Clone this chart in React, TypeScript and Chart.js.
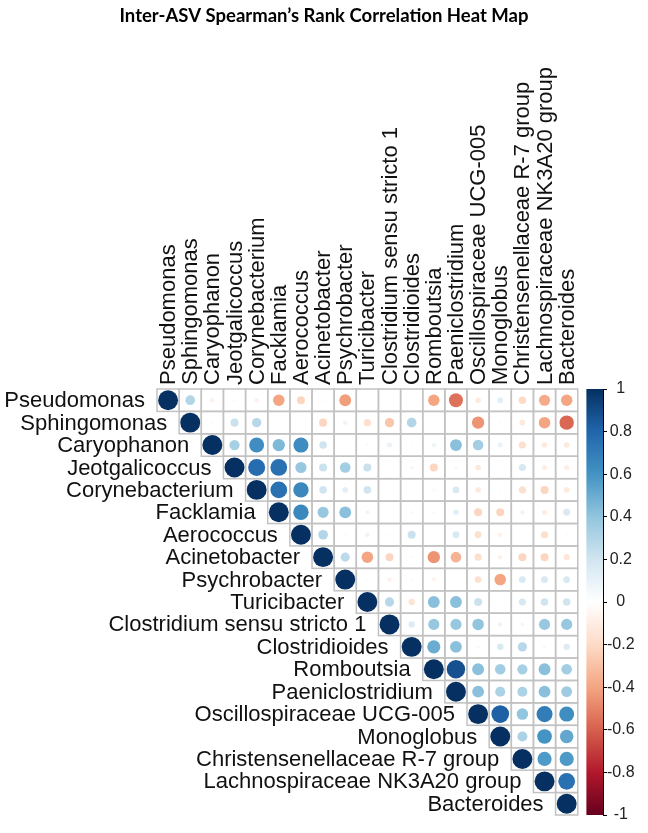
import { useEffect, useRef } from "react";
import { Chart, registerables } from "chart.js";

Chart.register(...registerables);

// ASV genera, in matrix order
const asvNames = [
  "Pseudomonas",
  "Sphingomonas",
  "Caryophanon",
  "Jeotgalicoccus",
  "Corynebacterium",
  "Facklamia",
  "Aerococcus",
  "Acinetobacter",
  "Psychrobacter",
  "Turicibacter",
  "Clostridium sensu stricto 1",
  "Clostridioides",
  "Romboutsia",
  "Paeniclostridium",
  "Oscillospiraceae UCG-005",
  "Monoglobus",
  "Christensenellaceae R-7 group",
  "Lachnospiraceae NK3A20 group",
  "Bacteroides",
];

// Upper triangle of Spearman's rho, each row starting at its diagonal
const rhoPseudomonas = [1, 0.3, -0.08, 0.04, -0.08, -0.4, -0.22, -0.04, -0.42, 0.03, 0, -0.03, -0.4, -0.55, -0.12, 0.13, -0.2, -0.38, -0.4];
const rhoSphingomonas = [1, -0.04, 0.22, 0.28, 0, -0.03, -0.22, 0.08, -0.18, -0.28, 0.3, 0, -0.03, -0.45, -0.03, -0.12, -0.4, -0.58];
const rhoCaryophanon = [1, 0.33, 0.62, 0.45, 0.63, 0.2, 0, 0.04, 0.1, 0.03, 0.08, 0.42, 0.35, 0.1, -0.18, -0.12, -0.12];
const rhoJeotgalicoccus = [1, 0.77, 0.75, 0.38, 0.22, 0.35, 0.22, -0.03, -0.06, -0.22, -0.05, -0.12, 0, 0.18, -0.1, -0.1];
const rhoCorynebacterium = [1, 0.75, 0.65, 0.2, 0.12, 0.2, 0.02, 0.02, -0.05, 0.17, -0.12, -0.03, -0.18, -0.22, -0.12];
const rhoFacklamia = [1, 0.65, 0.38, 0.42, 0.07, 0, 0.04, -0.04, 0.12, -0.22, -0.22, 0.08, -0.1, 0.17];
const rhoAerococcus = [1, 0.3, 0.03, 0.08, 0.03, 0.22, 0, 0.17, -0.17, -0.08, 0.02, -0.18, -0.03];
const rhoAcinetobacter = [1, 0.27, -0.4, -0.22, -0.04, -0.45, -0.35, -0.18, -0.08, -0.22, -0.22, -0.14];
const rhoPsychrobacter = [1, 0.03, -0.08, -0.03, -0.07, 0.02, -0.17, -0.4, 0.17, 0.17, 0.17];
const rhoTuricibacter = [1, 0.28, -0.15, 0.42, 0.42, 0.22, 0.02, 0.18, 0.2, 0.2];
const rhoClostridiumSS1 = [1, 0.15, 0.38, 0.38, 0.4, 0.08, 0.06, 0.38, 0.38];
const rhoClostridioides = [1, 0.5, 0.42, 0.05, 0.16, 0.28, 0.05, 0.15];
const rhoRomboutsia = [1, 0.88, 0.42, 0.35, 0.33, 0.42, 0.35];
const rhoPaeniclostridium = [1, 0.42, 0.32, 0.32, 0.42, 0.36];
const rhoOscillospiraceae = [1, 0.82, 0.4, 0.7, 0.62];
const rhoMonoglobus = [1, 0.32, 0.6, 0.52];
const rhoChristensenellaceae = [1, 0.57, 0.57];
const rhoLachnospiraceae = [1, 0.75];
const rhoBacteroides = [1];

const rhoRows = [
  rhoPseudomonas,
  rhoSphingomonas,
  rhoCaryophanon,
  rhoJeotgalicoccus,
  rhoCorynebacterium,
  rhoFacklamia,
  rhoAerococcus,
  rhoAcinetobacter,
  rhoPsychrobacter,
  rhoTuricibacter,
  rhoClostridiumSS1,
  rhoClostridioides,
  rhoRomboutsia,
  rhoPaeniclostridium,
  rhoOscillospiraceae,
  rhoMonoglobus,
  rhoChristensenellaceae,
  rhoLachnospiraceae,
  rhoBacteroides,
];

// colour legend ticks
const legendTicks = [-1, -0.8, -0.6, -0.4, -0.2, 0, 0.2, 0.4, 0.6, 0.8, 1];

// diverging red-white-blue palette, -1 .. 1
const rdBuStops = [
  "#67001F", "#B2182B", "#D6604D", "#F4A582", "#FDDBC7", "#FFFFFF",
  "#D1E5F0", "#92C5DE", "#4393C3", "#2166AC", "#053061",
];

const TITLE = "Inter-ASV Spearman\u2019s Rank Correlation Heat Map";
const TITLE_FONT = "bold 18.5px Lato, 'Open Sans', sans-serif";
const LABEL_FONT = "22px 'Liberation Sans', Arial, sans-serif";
const GRID_COLOR = "#C2C2C2";
const N = asvNames.length;
const X_MAX = 19.64; // leaves room on the right for the colour bar
const BAR_START = 18.89;
const SIZE_POWER = 0.6;

function hexToRgb(h: string) {
  const n = parseInt(h.slice(1), 16);
  return [(n >> 16) & 255, (n >> 8) & 255, n & 255];
}

function rhoColor(v: number) {
  const n = rdBuStops.length;
  const t = ((Math.max(-1, Math.min(1, v)) + 1) / 2) * (n - 1);
  const i = Math.min(n - 2, Math.floor(t));
  const f = t - i;
  const a = hexToRgb(rdBuStops[i]);
  const b = hexToRgb(rdBuStops[i + 1]);
  const c = a.map((av, k) => Math.round(av + (b[k] - av) * f));
  return `rgb(${c[0]},${c[1]},${c[2]})`;
}

type Cell = { x: number; y: number; v: number };

const cells: Cell[] = [];
rhoRows.forEach((row, i) => {
  row.forEach((v, k) => {
    cells.push({ x: i + k, y: i, v });
  });
});

function cellSize(chart: any) {
  const xs = chart.scales.x;
  const ys = chart.scales.y;
  const w = Math.abs(xs.getPixelForValue(1) - xs.getPixelForValue(0));
  const h = Math.abs(ys.getPixelForValue(1) - ys.getPixelForValue(0));
  return Math.min(w, h);
}

function markRadius(ctx: any) {
  const raw = ctx.raw as Cell;
  if (!raw) return 0;
  return 0.45 * cellSize(ctx.chart) * Math.pow(Math.abs(raw.v), SIZE_POWER);
}

// grey cell borders of the upper triangle and the colour bar
const gridPlugin = {
  id: "corrGrid",
  beforeDatasetsDraw(chart: any) {
    const { ctx, scales } = chart;
    const xs = scales.x;
    const ys = scales.y;
    ctx.save();
    ctx.strokeStyle = GRID_COLOR;
    ctx.lineWidth = 1.5;
    for (let i = 0; i < N; i++) {
      for (let j = i; j < N; j++) {
        const x0 = xs.getPixelForValue(j - 0.5);
        const x1 = xs.getPixelForValue(j + 0.5);
        const y0 = ys.getPixelForValue(i - 0.5);
        const y1 = ys.getPixelForValue(i + 0.5);
        ctx.strokeRect(x0, y0, x1 - x0, y1 - y0);
      }
    }
    // colour bar
    const y2 = scales.y2;
    const top = y2.getPixelForValue(1);
    const bottom = y2.getPixelForValue(-1);
    const left = xs.getPixelForValue(BAR_START);
    const right = chart.chartArea.right;
    const grad = ctx.createLinearGradient(0, bottom, 0, top);
    rdBuStops.forEach((c, k) => grad.addColorStop(k / (rdBuStops.length - 1), c));
    ctx.fillStyle = grad;
    ctx.fillRect(left, top, right - left, bottom - top);
    ctx.restore();
  },
};

// title, row labels beside the diagonal, column labels above the grid
const labelPlugin = {
  id: "corrLabels",
  afterDraw(chart: any) {
    const { ctx, scales, chartArea } = chart;
    const xs = scales.x;
    const ys = scales.y;
    ctx.save();
    ctx.font = TITLE_FONT;
    ctx.fillStyle = "#000";
    ctx.textAlign = "center";
    ctx.textBaseline = "middle";
    ctx.fillText(TITLE, chart.width / 2, 16);

    ctx.font = LABEL_FONT;
    ctx.fillStyle = "#111";
    ctx.textAlign = "right";
    asvNames.forEach((name, i) => {
      ctx.fillText(name, xs.getPixelForValue(i - 0.5) - 12, ys.getPixelForValue(i) + 1);
    });
    asvNames.forEach((name, j) => {
      ctx.save();
      ctx.translate(xs.getPixelForValue(j) + 1, chartArea.top - 4);
      ctx.rotate(-Math.PI / 2);
      ctx.textAlign = "left";
      ctx.textBaseline = "middle";
      ctx.fillText(name, 0, 0);
      ctx.restore();
    });
    ctx.restore();
  },
};

export default function App() {
  const canvasRef = useRef<HTMLCanvasElement | null>(null);

  useEffect(() => {
    if (!canvasRef.current) return;
    const chart = new Chart(canvasRef.current, {
      type: "scatter",
      data: {
        datasets: [
          {
            data: cells as any,
            parsing: false,
            pointStyle: "circle",
            pointRadius: markRadius,
            pointHoverRadius: markRadius,
            backgroundColor: (ctx: any) => (ctx.raw ? rhoColor((ctx.raw as Cell).v) : "#fff"),
            borderColor: (ctx: any) => (ctx.raw ? rhoColor((ctx.raw as Cell).v) : "#fff"),
            borderWidth: 0,
          } as any,
        ],
      },
      options: {
        animation: false,
        responsive: false,
        layout: { padding: { left: 157, right: 0, top: 389, bottom: 18 } },
        plugins: {
          legend: { display: false },
          tooltip: { enabled: false },
          title: { display: false },
        },
        scales: {
          x: { type: "linear", min: -0.5, max: X_MAX, display: false },
          y: { type: "linear", min: -0.5, max: N - 0.5, reverse: true, display: false },
          y2: {
            type: "linear",
            position: "right",
            min: -1,
            max: 1,
            afterBuildTicks: (scale: any) => {
              scale.ticks = legendTicks.map((value) => ({ value }));
            },
            afterFit: (scale: any) => {
              scale.width = 45;
            },
            ticks: {
              callback: (v: any) => String(Math.round(Number(v) * 10) / 10),
              color: "#222",
              font: { family: "'Liberation Sans', Arial, sans-serif", size: 16 },
              crossAlign: "center",
              padding: 0,
            },
            grid: {
              drawOnChartArea: false,
              drawTicks: true,
              tickLength: 4,
              color: "#000",
              lineWidth: 1,
            },
            border: { display: true, color: "#000", width: 1 },
          },
        },
      } as any,
      plugins: [gridPlugin, labelPlugin],
    });
    return () => chart.destroy();
  }, []);

  return (
    <div style={{ position: "absolute", left: 0, top: 0, width: 648, height: 833, background: "#fff" }}>
      <canvas ref={canvasRef} width={648} height={833} />
    </div>
  );
}
